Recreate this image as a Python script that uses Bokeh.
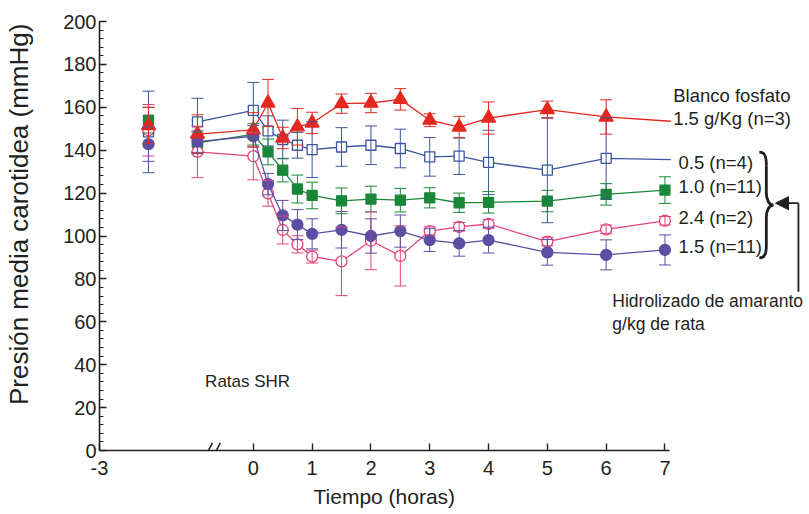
import math
from bokeh.plotting import figure
from bokeh.models import (Range1d, FixedTicker, SingleIntervalTicker, CustomJSTickFormatter,
                          Label, Arrow, NormalHead, ColumnDataSource, Whisker, TeeHead, Title)
from bokeh.embed import file_html
from bokeh.resources import INLINE

# ---------------- data ----------------
times = [-2, -1, 0, 0.25, 0.5, 0.75, 1, 1.5, 2, 2.5, 3, 3.5, 4, 5, 6, 7]
x_ticks = [-3, 0, 1, 2, 3, 4, 5, 6, 7]

blanco = [151.5, 147.5, 149.5, 162, 145.7, 150.9, 152.7, 161.7, 162, 163.7, 154, 150.8, 155, 158.9, 155.5]
blanco_err = [8.5, 9, 8, 11, 5, 8.5, 5, 4.5, 4.5, 5, 3, 5, 7.5, 4, 8]
blanco_tail = 153.5

d05 = [148.5, 153.2, 158.6, 149, 145, 142.3, 140.3, 141.5, 142.3, 140.8, 136.9, 137.2, 134.3, 130.7, 136.2]
d05_err = [19, 11, 13, 7, 9, 6, 13, 9, 9, 9, 9, 8.5, 15, 24.5, 19]
d05_tail = 135.6

d10 = [154, 143.4, 147.4, 139.2, 130.7, 121.9, 118.9, 116.4, 117.2, 116.7, 117.8, 115.5, 115.7, 116.3, 119.4, 121.4]
d10_err = [6, 5, 5, 6, 5.5, 6.5, 6.2, 6, 6, 5.5, 4.7, 4.5, 5, 5, 5, 6.2]

d24 = [149.3, 139.2, 137.2, 119.9, 102.8, 96.1, 90.4, 88.2, 97.8, 90.7, 102.3, 104.3, 105.6, 97.4, 103.1, 107.1]
d24_err = [12, 12, 11, 6, 6.5, 4, 3, 16, 13.5, 14, 2, 2, 2, 2, 2, 2]

d15 = [142.8, 144, 146.5, 124.2, 109.6, 105.3, 101, 102.9, 100, 102.3, 98.1, 96.6, 98.1, 92.4, 91.2, 93.5]
d15_err = [8, 5, 5, 5, 7, 7, 7, 8.5, 8, 7.5, 5.3, 6, 6, 6, 7, 7]

TAIL_T = 7.1
FONT = "Liberation Sans"
TXT = "#231f20"
NBSP = "\u00a0"


def axis_pos(t):
    """Axis is broken: the baseline segment before 0 is compressed."""
    return t if t >= 0 else -0.95 + (t + 1) * 0.833


X_LEFT = axis_pos(-3)

p = figure(width=805, height=512, output_backend="svg", toolbar_location=None,
           x_range=Range1d(X_LEFT, 9.39), y_range=Range1d(0, 200),
           min_border_left=99, min_border_right=0, min_border_top=21, min_border_bottom=61)
p.outline_line_color = None
p.grid.visible = False
p.background_fill_color = "white"

# axes
xa = p.xaxis[0]
xa.ticker = FixedTicker(ticks=[axis_pos(t) for t in x_ticks], minor_ticks=[])
xa.formatter = CustomJSTickFormatter(code="return tick < -1 ? '-3' : tick.toFixed(0);")
xa.bounds = (X_LEFT, 7.07)
ya = p.yaxis[0]
ya.ticker = SingleIntervalTicker(interval=20, num_minor_ticks=5)
ya.bounds = (0, 200)
for ax in (xa, ya):
    ax.axis_line_width = 1.6
    ax.axis_line_color = TXT
    ax.major_tick_line_color = TXT
    ax.major_tick_line_width = 1.4
    ax.major_tick_in = 7
    ax.major_tick_out = 0
    ax.minor_tick_in = 4
    ax.minor_tick_out = 0
    ax.minor_tick_line_color = TXT
    ax.major_label_text_font = FONT
    ax.major_label_text_font_size = "20px"
    ax.major_label_text_color = TXT
xa.major_label_standoff = 10
ya.major_label_standoff = 3

# axis titles
ya.axis_label = NBSP * 6 + "Presión media carotidea (mmHg)"
ya.axis_label_text_font = FONT
ya.axis_label_text_font_size = "26px"
ya.axis_label_text_font_style = "normal"
ya.axis_label_text_color = TXT
ya.axis_label_standoff = 26

p.add_layout(Title(text="Tiempo (horas)", align="left", offset=214, text_font=FONT,
                   text_font_size="21px", text_font_style="normal", text_color=TXT), "below")

# axis break marks
for xc in (-0.765, -0.63):
    p.add_layout(Arrow(x_start=xc - 0.07, y_start=-3.6, x_end=xc + 0.07, y_end=3.6,
                       start=None, end=None, line_color=TXT, line_width=1.5))

# series
series = [
    (d05, d05_err, d05_tail, "#3c56a0", "square", "white", 10),
    (d10, d10_err, None, "#1b873b", "square", "#1b873b", 10),
    (d24, d24_err, None, "#e2447c", "circle", "white", 11),
    (d15, d15_err, None, "#5b4fa3", "circle", "#5b4fa3", 11),
    (blanco, blanco_err, blanco_tail, "#e3291f", "triangle", "#e3291f", 14),
]

for vals, errs, tail, color, marker, fill, size in series:
    xs = [axis_pos(t) for t in times[:len(vals)]]
    src = ColumnDataSource(dict(x=xs, y=vals,
                                up=[v + e for v, e in zip(vals, errs)],
                                lo=[v - e for v, e in zip(vals, errs)]))
    p.add_layout(Whisker(source=src, base="x", upper="up", lower="lo", line_color=color,
                         line_width=1, level="glyph",
                         upper_head=TeeHead(size=12, line_color=color, line_width=1),
                         lower_head=TeeHead(size=12, line_color=color, line_width=1)))
    lx = xs[1:]
    ly = list(vals[1:])
    if tail is not None:
        lx = lx + [TAIL_T]
        ly = ly + [tail]
    p.line(lx, ly, line_color=color, line_width=1.3)
    p.scatter("x", "y", source=src, marker=marker, size=size, fill_color=fill,
              line_color=color, line_width=1.3)

# series labels
labels = [
    ("Blanco fosfato", 7.14, 165.6),
    ("1.5 g/Kg (n=3)", 7.14, 154.9),
    ("0.5 (n=4)", 7.23, 134.4),
    ("1.0 (n=11)", 7.23, 123.3),
    ("2.4 (n=2)", 7.23, 108.4),
    ("1.5 (n=11)", 7.23, 94.9),
]
for txt, x, y in labels:
    p.add_layout(Label(x=x, y=y, text=txt, text_font=FONT, text_font_size="18.5px",
                       text_color=TXT, text_align="left", text_baseline="middle"))

p.add_layout(Label(x=-0.82, y=32.1, text="Ratas SHR", text_font=FONT, text_font_size="17px",
                   text_color=TXT, text_align="left", text_baseline="middle"))
p.add_layout(Label(x=6.105, y=69.8, text="Hidrolizado de amaranto", text_font=FONT,
                   text_font_size="17.5px", text_color=TXT, text_align="left", text_baseline="middle"))
p.add_layout(Label(x=6.105, y=59.1, text="g/kg de rata", text_font=FONT,
                   text_font_size="17.5px", text_color=TXT, text_align="left", text_baseline="middle"))

# brace
bz = dict(
    x0=[8.605, 8.724, 8.844, 8.724],
    y0=[139.1, 120.0, 114.4, 95.8],
    x1=[8.724, 8.844, 8.724, 8.605],
    y1=[133.0, 114.4, 108.8, 89.8],
    cx0=[8.707, 8.724, 8.776, 8.724],
    cy0=[139.1, 116.7, 114.4, 92.1],
    cx1=[8.724, 8.776, 8.724, 8.707],
    cy1=[136.7, 114.4, 112.1, 89.8],
)
p.bezier(x0="x0", y0="y0", x1="x1", y1="y1", cx0="cx0", cy0="cy0", cx1="cx1", cy1="cy1",
         source=ColumnDataSource(bz), line_color=TXT, line_width=2.8)
p.segment(x0=[8.724, 8.724], y0=[133.0, 108.8], x1=[8.724, 8.724], y1=[120.0, 95.8],
          line_color=TXT, line_width=2.8)

# arrow
p.add_layout(Arrow(x_start=9.27, y_start=115.3, x_end=8.88, y_end=115.3, line_color=TXT,
                   line_width=1.8, end=NormalHead(size=13, fill_color=TXT, line_color=TXT)))
p.add_layout(Arrow(x_start=9.27, y_start=115.3, x_end=9.27, y_end=74, start=None, end=None,
                   line_color=TXT, line_width=1.8))

open("out.html", "w").write(file_html(p, INLINE))
